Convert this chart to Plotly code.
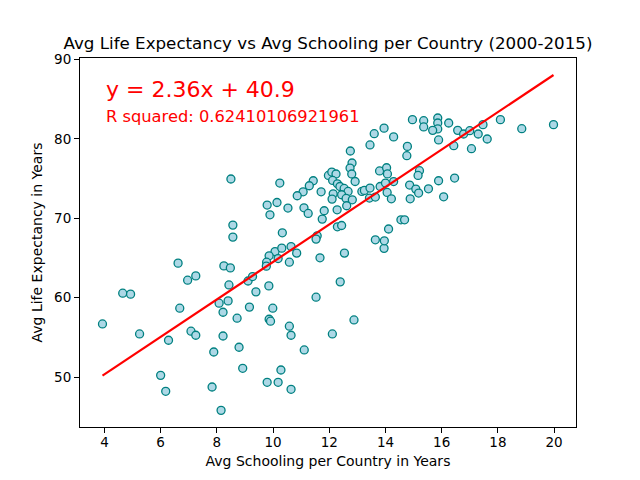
import plotly.graph_objects as go

# avg years of schooling per country (2000-2015)
schooling = [
    6.62, 8.25, 8.48, 7.25, 6.96, 8.43, 9.11, 4.65, 4.93, 8.08,
    8.40, 8.22, 6.68, 9.16, 3.93, 8.72, 5.25, 7.08, 7.25, 8.22,
    6.28, 8.79, 7.89, 8.92, 6.00, 6.18, 7.83, 8.15,
    10.07, 9.86, 10.84, 10.18, 9.77, 9.76, 10.58, 11.67, 12.54, 13.95,
    9.27, 9.85, 9.39, 12.39, 11.53, 9.99, 9.86, 9.91, 12.88, 10.58,
    10.64, 12.11, 11.11, 10.28, 9.79, 10.18, 10.64,
    13.60, 13.95, 14.29, 13.45, 12.75, 12.81, 12.74, 12.80, 8.50, 10.24,
    11.97, 12.09, 12.24, 12.12, 12.29, 11.43, 11.29, 11.07, 10.86, 11.71,
    12.38, 12.53, 12.67, 12.92, 12.14, 12.10, 12.44, 12.60, 12.82, 12.62,
    12.28, 13.16, 13.25, 13.45, 13.81, 13.43, 13.64, 13.79, 14.04, 14.07,
    14.00, 14.29, 14.06, 14.21, 14.55, 14.68, 9.79, 10.14, 9.89, 10.53,
    11.10, 11.25, 11.82, 11.75, 12.29, 12.44, 8.57, 8.57, 10.33, 11.57,
    11.53, 14.11, 13.64, 13.96, 10.64, 10.31,
    14.96, 15.36, 15.36, 15.86, 15.86, 15.86, 15.68, 16.25, 16.57, 16.78,
    17.00, 17.30, 17.47, 17.62, 18.09, 18.85, 19.98, 15.89, 16.43, 17.06,
    14.78, 14.76, 15.21, 15.16, 14.86, 15.08, 15.18, 15.53, 15.89, 16.46,
    14.88, 16.07,
]

# avg life expectancy per country (2000-2015)
life_expectancy = [
    64.35, 64.00, 63.75, 62.74, 62.20, 61.60, 62.10, 60.56, 60.44, 59.30,
    59.59, 58.16, 58.67, 58.81, 56.69, 57.41, 55.43, 55.77, 55.26, 55.17,
    54.63, 53.75, 53.15, 51.10, 50.21, 48.20, 48.74, 45.80,
    65.81, 65.27, 65.61, 64.93, 64.47, 63.97, 64.47, 65.02, 65.61, 66.21,
    62.66, 61.48, 60.73, 61.99, 60.06, 58.67, 57.28, 57.03, 57.19, 56.40,
    55.26, 55.43, 53.41, 50.88, 49.33, 49.33, 48.45,
    80.66, 81.36, 80.26, 79.24, 78.48, 76.97, 76.33, 75.58, 74.95, 74.44,
    75.40, 75.83, 75.58, 74.77, 74.35, 74.73, 74.10, 73.34, 72.84, 73.34,
    74.01, 73.76, 73.38, 74.64, 73.09, 72.42, 72.97, 72.50, 72.33, 71.58,
    71.07, 73.38, 73.51, 73.81, 74.01, 72.55, 72.68, 75.97, 76.37, 75.59,
    74.44, 74.63, 73.26, 72.46, 69.81, 69.81, 71.67, 71.99, 70.44, 71.29,
    71.32, 70.61, 70.95, 69.90, 68.93, 69.09, 69.14, 67.63, 68.17, 67.79,
    67.38, 68.65, 67.29, 67.16, 66.44, 66.24,
    82.43, 82.30, 81.51, 82.64, 82.01, 81.26, 81.08, 82.01, 81.08, 80.62,
    81.04, 80.62, 81.80, 79.99, 82.43, 81.29, 81.80, 79.87, 79.15, 78.77,
    79.06, 77.89, 76.00, 75.40, 74.19, 73.68, 73.18, 73.72, 74.73, 75.07,
    72.46, 72.71,
]

slope = 2.36
intercept = 40.9
r_squared = "0.62410106921961"

line_x = [min(schooling), max(schooling)]
line_y = [slope * v + intercept for v in line_x]

font = "DejaVu Sans"

scatter = go.Scatter(x=schooling,
                     y=life_expectancy,
                     mode='markers',
                     marker=dict(size=8, color='#add8e6',
                                 line=dict(color='#008080', width=1.3)),
                     hoverinfo='x+y'
                     )

regress = go.Scatter(x=line_x,
                     y=line_y,
                     mode='lines',
                     line=dict(color='red', width=2.2),
                     hoverinfo='none'
                     )

axis = dict(showgrid=False,
            zeroline=False,
            showline=True,
            linecolor='black',
            linewidth=1,
            mirror=True,
            ticks='outside',
            ticklen=5,
            tickcolor='black',
            tickfont=dict(family=font, size=13.5, color='black'),
            )

# the page body adds an 8px offset, so the figure is 8px smaller
layout = go.Layout(
    width=632,
    height=472,
    showlegend=False,
    plot_bgcolor='white',
    paper_bgcolor='white',
    margin=dict(l=72, r=64, t=50, b=53),
    title=dict(text="Avg Life Expectancy vs Avg Schooling per Country (2000-2015)",
               font=dict(family=font, size=16.7, color='black'),
               x=0.5, xref='paper', xanchor='center',
               y=1 - 35 / 472, yref='container', yanchor='middle'),
    xaxis=dict(axis, range=[3.13, 20.78], tickvals=[4, 6, 8, 10, 12, 14, 16, 18, 20],
               ticklabelstandoff=-2,
               title=dict(text="Avg Schooling per Country in Years",
                          font=dict(family=font, size=14, color='black'), standoff=6)),
    yaxis=dict(axis, range=[43.7, 90.2], tickvals=[50, 60, 70, 80, 90],
               title=dict(text="Avg Life Expectancy in Years",
                          font=dict(family=font, size=14, color='black'), standoff=8)),
    annotations=[
        dict(x=4, y=85, xref='x', yref='y', text=f"y = {slope}x + {intercept}",
             showarrow=False, xanchor='left', yanchor='bottom', yshift=-5,
             font=dict(family=font, size=22, color='red')),
        dict(x=4, y=82, xref='x', yref='y', text=f"R squared: {r_squared}",
             showarrow=False, xanchor='left', yanchor='bottom', yshift=-5,
             font=dict(family=font, size=16.3, color='red')),
    ],
)

fig = go.Figure(data=[scatter, regress], layout=layout)
fig.write_html("out.html")
